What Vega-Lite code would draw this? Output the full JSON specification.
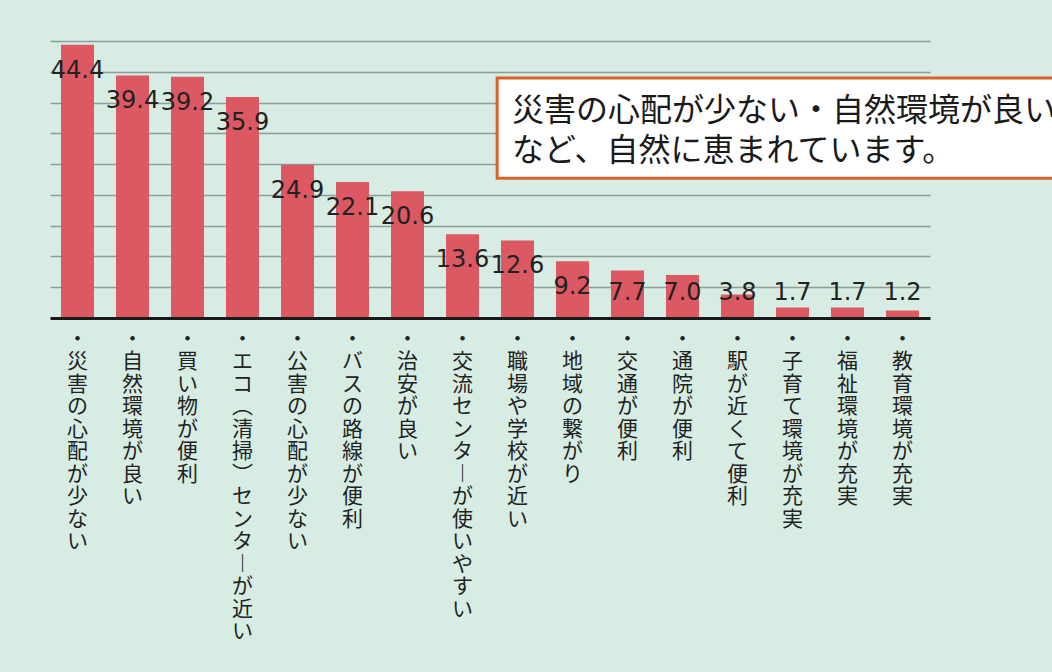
{
  "$schema": "https://vega.github.io/schema/vega-lite/v6.json",
  "width": 880,
  "height": 277,
  "autosize": {"type": "none"},
  "padding": {"left": 50, "top": 41, "right": 122, "bottom": 354},
  "background": "#d7ede3",
  "config": {"view": {"stroke": null}},
  "data": {
    "values": [
      {"item": "災害の心配が少ない", "value": 44.4},
      {"item": "自然環境が良い", "value": 39.4},
      {"item": "買い物が便利", "value": 39.2},
      {"item": "エコ（清掃）センターが近い", "value": 35.9},
      {"item": "公害の心配が少ない", "value": 24.9},
      {"item": "バスの路線が便利", "value": 22.1},
      {"item": "治安が良い", "value": 20.6},
      {"item": "交流センターが使いやすい", "value": 13.6},
      {"item": "職場や学校が近い", "value": 12.6},
      {"item": "地域の繋がり", "value": 9.2},
      {"item": "交通が便利", "value": 7.7},
      {"item": "通院が便利", "value": 7.0},
      {"item": "駅が近くて便利", "value": 3.8},
      {"item": "子育て環境が充実", "value": 1.7},
      {"item": "福祉環境が充実", "value": 1.7},
      {"item": "教育環境が充実", "value": 1.2}
    ]
  },
  "resolve": {"scale": {"x": "independent"}},
  "layer": [
    {
      "layer": [
        {
          "mark": {"type": "bar", "color": "#dc5862"},
          "encoding": {
            "x": {
              "field": "item", "type": "nominal", "sort": null,
              "scale": {"paddingInner": 0.4, "paddingOuter": 0.2},
              "axis": {
                "title": null, "labelAngle": 0, "ticks": false,
                "domainColor": "#1a1a1a", "domainWidth": 3,
                "labelFont": "Noto Sans CJK JP", "labelFontSize": 21,
                "labelLineHeight": 22.5, "labelColor": "#222222",
                "labelPadding": 10, "labelBaseline": "top", "labelAlign": "center",
                "labelOverlap": false, "labelLimit": 0, "zindex": 1, "grid": false,
                "labelExpr": "split('・' + replace(replace(replace(datum.label, '（', '︵'), '）', '︶'), 'ー', '︱'), '')"
              }
            },
            "y": {
              "field": "value", "type": "quantitative",
              "scale": {"domain": [0, 45], "nice": false},
              "axis": {
                "title": null, "grid": true, "gridColor": "#8d9d98", "gridWidth": 1.5,
                "domain": false, "ticks": false, "labels": false, "tickCount": 10,
                "values": [5, 10, 15, 20, 25, 30, 35, 40, 45], "zindex": 0
              }
            }
          }
        },
        {
          "transform": [{"calculate": "max(datum.value, 8.3)", "as": "labelPos"}],
          "mark": {"type": "text", "dy": 26, "baseline": "middle", "align": "center", "font": "DejaVu Sans", "fontSize": 24, "color": "#222222"},
          "encoding": {
            "x": {"field": "item", "type": "nominal", "sort": null},
            "y": {"field": "labelPos", "type": "quantitative"},
            "text": {"field": "value", "type": "quantitative", "format": ".1f"}
          }
        }
      ]
    },
    {
      "data": {"values": [{"note": "box"}]},
      "layer": [
        {
          "mark": {"type": "rect", "fill": "#ffffff", "stroke": "#d9622b", "strokeWidth": 3},
          "encoding": {
            "x": {"datum": 8.13, "type": "quantitative", "scale": {"domain": [0, 16], "nice": false, "zero": false}, "axis": null},
            "x2": {"datum": 20},
            "y": {"datum": 39.0, "type": "quantitative"},
            "y2": {"datum": 22.7}
          }
        },
        {
          "mark": {"type": "text", "align": "left", "baseline": "middle", "font": "Noto Sans CJK JP", "fontSize": 32, "lineHeight": 40, "color": "#1a1a1a"},
          "encoding": {
            "x": {"datum": 8.4, "type": "quantitative", "axis": null},
            "y": {"datum": 33.6, "type": "quantitative"},
            "text": {"value": ["災害の心配が少ない・自然環境が良い", "など、自然に恵まれています。"]}
          }
        }
      ]
    }
  ]
}
